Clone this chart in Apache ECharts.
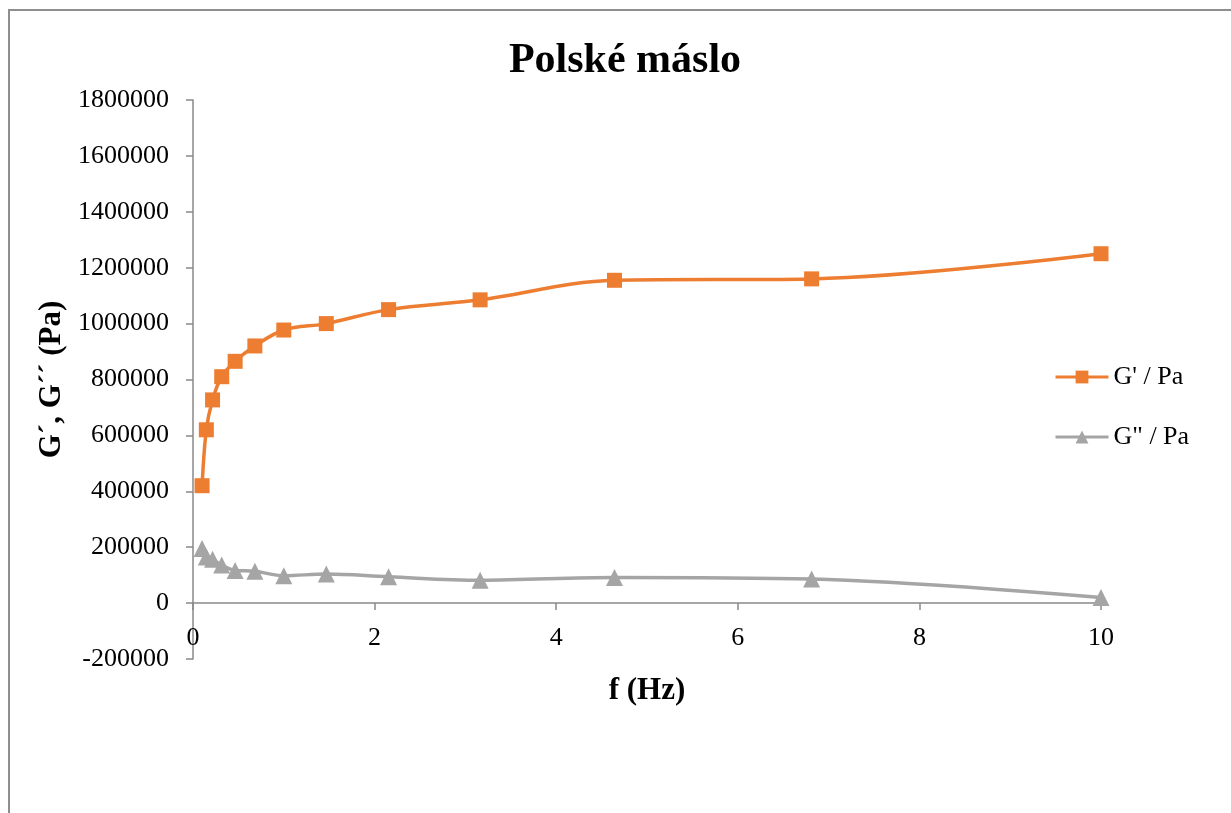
<!DOCTYPE html>
<html>
<head>
<meta charset="utf-8">
<title>Polské máslo</title>
<script src="https://cdn.jsdelivr.net/npm/echarts@6/dist/echarts.min.js"></script>
<style>
  html, body { margin: 0; padding: 0; background: #fff; }
  #chart { width: 1231px; height: 813px; }
</style>
</head>
<body>
<div id="chart"></div>
<script>
// Oscillation frequency sweep (Hz)
const frequency = [0.1, 0.1468, 0.2154, 0.3162, 0.4642, 0.6813, 1, 1.468, 2.154, 3.162, 4.642, 6.813, 10];
// Storage modulus G' (Pa)
const storageModulus = [420000, 620000, 727000, 810000, 865000, 920000, 977000, 1000000, 1050000, 1085000, 1155000, 1160000, 1250000];
// Loss modulus G'' (Pa)
const lossModulus = [195000, 165000, 157000, 136000, 117000, 114000, 98000, 104000, 94000, 82000, 92000, 86000, 20000];

const seriesNames = ["G' / Pa", 'G" / Pa'];
const chartTitle = 'Polské máslo';
const xTitle = 'f (Hz)';
const yTitle = 'G´, G´´ (Pa)';

const serif = '"Liberation Serif", "Times New Roman", serif';
const axisGray = '#898989';

const pairs = (xs, ys) => xs.map((x, i) => [x, ys[i]]);

const chart = echarts.init(document.getElementById('chart'), null, { renderer: 'canvas' });

chart.setOption({
  backgroundColor: '#ffffff',
  animation: false,
  graphic: [{
    type: 'rect',
    shape: { x: 9, y: 10, width: 1400, height: 1000 },
    style: { fill: 'none', stroke: '#8e8e8e', lineWidth: 2 },
    silent: true,
    z: -1
  }],
  title: {
    text: chartTitle,
    left: 620,
    top: 35,
    textAlign: 'center',
    textStyle: { fontFamily: serif, fontSize: 42, fontWeight: 'bold', color: '#000' }
  },
  legend: {
    orient: 'vertical',
    left: 1054,
    top: 364,
    padding: 0,
    itemWidth: 53,
    itemHeight: 16,
    itemGap: 34,
    lineStyle: { width: 3 },
    textStyle: { fontFamily: serif, fontSize: 26, color: '#000' },
    data: seriesNames
  },
  grid: { left: 193, right: 130, top: 100, bottom: 154, containLabel: false },
  xAxis: {
    type: 'value',
    min: 0,
    max: 10,
    interval: 2,
    name: xTitle,
    nameLocation: 'middle',
    nameGap: 16,
    nameTextStyle: { fontFamily: serif, fontSize: 31, fontWeight: 'bold', color: '#000' },
    axisLine: { onZero: true, lineStyle: { color: axisGray, width: 1.5 } },
    axisTick: { show: true, inside: false, length: 7, lineStyle: { color: axisGray, width: 1.5 } },
    // labels sit just under the zero line rather than at the bottom of the grid
    axisLabel: { fontFamily: serif, fontSize: 26, color: '#000', margin: -34 },
    splitLine: { show: false }
  },
  yAxis: {
    type: 'value',
    min: -200000,
    max: 1800000,
    interval: 200000,
    name: yTitle,
    nameLocation: 'middle',
    nameRotate: 90,
    nameGap: 109,
    nameTextStyle: { fontFamily: serif, fontSize: 31, fontWeight: 'bold', color: '#000' },
    axisLine: { show: true, lineStyle: { color: axisGray, width: 1.5 } },
    axisTick: { show: true, inside: false, length: 7, lineStyle: { color: axisGray, width: 1.5 } },
    axisLabel: { fontFamily: serif, fontSize: 26, color: '#000', margin: 24, formatter: v => String(v) },
    splitLine: { show: false }
  },
  series: [
    {
      name: seriesNames[0],
      type: 'line',
      data: pairs(frequency, storageModulus),
      smooth: 0.35,
      symbol: 'rect',
      symbolSize: 15,
      itemStyle: { color: '#ED7D31' },
      lineStyle: { color: '#ED7D31', width: 3.5 }
    },
    {
      name: seriesNames[1],
      type: 'line',
      data: pairs(frequency, lossModulus),
      smooth: 0.35,
      symbol: 'triangle',
      symbolSize: 17,
      itemStyle: { color: '#A5A5A5' },
      lineStyle: { color: '#A5A5A5', width: 3.5 }
    }
  ]
});
</script>
</body>
</html>
